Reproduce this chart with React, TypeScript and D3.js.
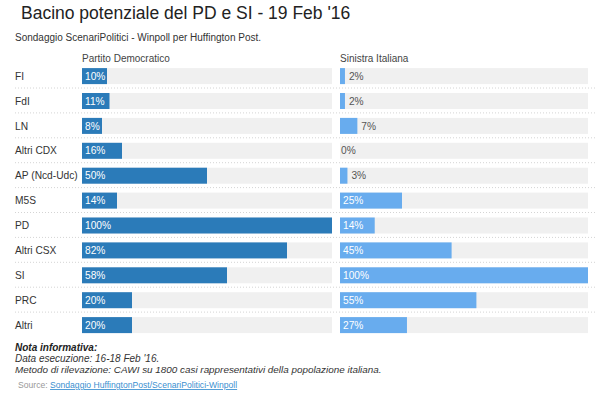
import React from "react";
import * as d3 from "d3";

const categories = ["FI", "FdI", "LN", "Altri CDX", "AP (Ncd-Udc)", "M5S", "PD", "Altri CSX", "SI", "PRC", "Altri"];
const pdValues = [10, 11, 8, 16, 50, 14, 100, 82, 58, 20, 20];
const siValues = [2, 2, 7, 0, 3, 25, 14, 45, 100, 55, 27];
const seriesNames = ["Partito Democratico", "Sinistra Italiana"];

const W = 599;
const H = 398;
const FONT = "Arial, 'Liberation Sans', Helvetica, sans-serif";

function measure(text: string, size: number) {
  // approximate Arial width
  return text.length * size * 0.56;
}

export default function App() {
  const y = d3.scaleBand<string>().domain(categories).range([63.6, 63.6 + 11 * 24.9]).padding(0);
  const barH = 16;
  const barOff = 4.5;
  const xPD = d3.scaleLinear().domain([0, 100]).range([82, 332]);
  const xSI = d3.scaleLinear().domain([0, 100]).range([340, 588]);

  const cols = [
    { name: seriesNames[0], values: pdValues, x: xPD, color: "#2b7bb9" },
    { name: seriesNames[1], values: siValues, x: xSI, color: "#68acee" },
  ];

  return (
    <svg width={W} height={H} style={{ position: "absolute", left: 0, top: 0, background: "#fff" }} fontFamily={FONT}>
      <rect x={0} y={0} width={W} height={H} fill="#fff" />
      <text x={21} y={18.5} fontSize={17.5} fill="#222">Bacino potenziale del PD e SI - 19 Feb '16</text>
      <text x={15} y={41} fontSize={10} fill="#333">Sondaggio ScenariPolitici - Winpoll per Huffington Post.</text>
      {cols.map((c) => (
        <text key={c.name} x={c.x(0)} y={62} fontSize={10} fill="#444">{c.name}</text>
      ))}
      {categories.slice(1).map((cat) => (
        <line key={"sep" + cat} x1={15} x2={597} y1={(y(cat) as number) - 0.5} y2={(y(cat) as number) - 0.5}
          stroke="#d4d4d4" strokeWidth={1} strokeDasharray="1,2" />
      ))}
      {categories.map((cat, i) => {
        const top = (y(cat) as number) + barOff;
        return (
          <g key={cat}>
            <text x={15} y={top + barH / 2 + 3.6} fontSize={10.2} fill="#333">{cat}</text>
            {cols.map((c) => {
              const v = c.values[i];
              const x0 = c.x(0);
              const x1 = c.x(v);
              const w = x1 - x0;
              const label = v + "%";
              const inside = w >= measure(label, 10.2) + 7;
              return (
                <g key={c.name}>
                  <rect x={x0} y={top} width={c.x(100) - x0} height={barH} fill="#f0f0f0" />
                  {w > 0 && <rect x={x0} y={top} width={w} height={barH} fill={c.color} />}
                  <text x={inside ? x0 + 3 : (w > 0 ? x1 + 4 : x0 + 1)} y={top + barH / 2 + 3.6} fontSize={10.2}
                    fill={inside ? "#fff" : "#555"}>{label}</text>
                </g>
              );
            })}
          </g>
        );
      })}
      <text x={15} y={351} fontSize={10} fontWeight="bold" fontStyle="italic" fill="#222">Nota informativa:</text>
      <text x={15} y={362} fontSize={10} fontStyle="italic" fill="#333">Data esecuzione: 16-18 Feb '16.</text>
      <text x={15} y={372.5} fontSize={9.9} fontStyle="italic" fill="#333">Metodo di rilevazione: CAWI su 1800 casi rappresentativi della popolazione italiana.</text>
      <text x={18} y={388} fontSize={8.6} fill="#999">
        Source: <tspan fill="#3a8fd0" style={{ textDecoration: "underline" }}>Sondaggio HuffingtonPost/ScenariPolitici-Winpoll</tspan>
      </text>
    </svg>
  );
}
